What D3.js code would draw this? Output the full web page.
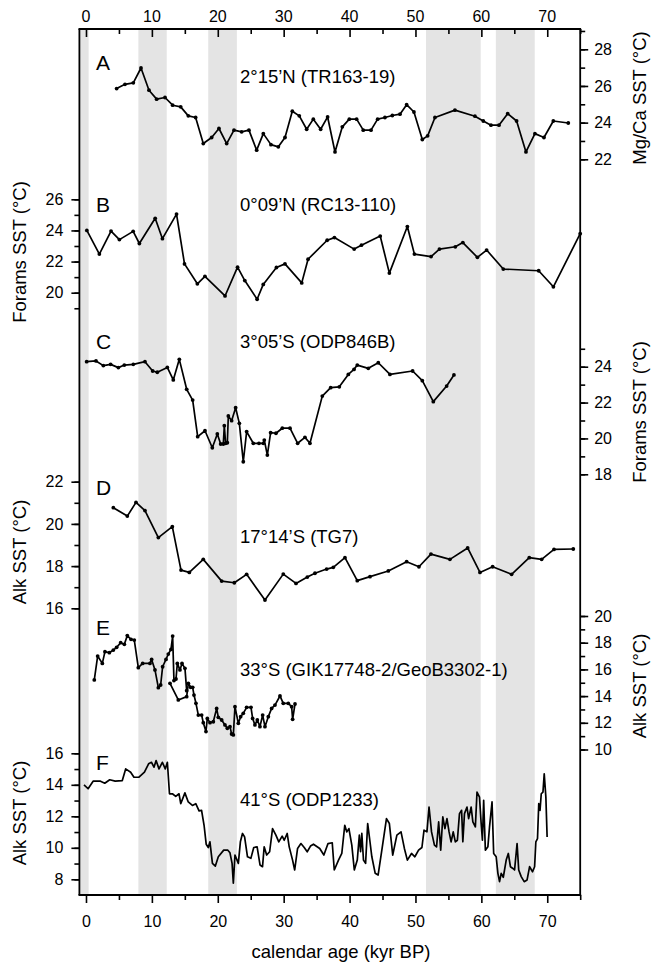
<!DOCTYPE html>
<html>
<head>
<meta charset="utf-8">
<script src="https://d3js.org/d3.v7.min.js"></script>
<style>
  body {margin:0; background:#fff;}
  text {font-family:"Liberation Sans", Arial, sans-serif; fill:#000;}
</style>
</head>
<body>
<div id="chart"></div>
<script>
// gray intervals (kyr BP)
const bandStart = [-1, 7.95, 18.55, 51.6, 62.2];
const bandEnd   = [0.4, 12.25, 22.9, 59.9, 68.1];

const xTicks = [0, 10, 20, 30, 40, 50, 60, 70];

// A  2°15'N TR163-19, Mg/Ca SST
const ageA = [4.65,5.92,7.18,8.35,9.56,10.72,11.99,13.15,14.37,15.53,16.64,17.8,19.07,20.18,21.35,22.46,23.62,24.73,25.9,26.91,28.07,29.19,30.2,31.31,32.37,33.49,34.5,35.61,36.67,37.79,38.9,39.96,41.07,42.08,43.25,44.26,45.37,46.49,47.65,48.66,49.77,51.04,51.85,52.96,55.99,59.03,60.29,61.46,62.67,63.99,65.35,66.77,68.13,69.5,70.92,73.19];
const sstA = [25.86,26.09,26.17,26.98,25.77,25.28,25.37,24.95,24.86,24.37,24.28,22.86,23.19,23.68,22.86,23.59,23.5,23.59,22.5,23.4,22.8,22.68,23.19,24.62,24.37,23.64,24.19,23.64,24.31,22.4,23.77,24.19,24.19,23.59,23.59,24.19,24.28,24.39,24.46,24.98,24.58,23.08,23.28,24.28,24.68,24.35,24.09,23.86,23.86,24.49,24.09,22.4,23.4,23.19,24.09,23.98];

// B  0°09'N RC13-110, forams SST
const ageB = [0.13,2.03,3.8,5.07,7.16,8.1,10.5,11.6,13.74,14.95,16.9,18.05,21.1,23.0,24.1,25.97,26.9,28.9,30.2,32.74,33.7,36.6,37.7,40.7,41.8,44.65,46.04,48.77,49.84,52.37,53.64,56.05,57.19,59.4,60.8,63.33,68.7,70.93,75.0];
const sstB = [24.0,22.48,23.96,23.41,23.94,23.16,24.78,23.47,25.05,21.85,20.57,21.05,19.79,21.64,20.78,19.58,20.53,21.62,21.85,20.63,22.15,23.37,23.54,22.8,23.05,23.64,21.26,24.25,22.48,22.32,22.8,22.95,23.22,22.27,22.74,21.52,21.41,20.38,23.79];

// C  3°05'S ODP846B, forams SST
const ageC = [0.1,1.52,2.63,3.74,4.91,5.82,7.18,8.95,10.12,10.82,12.34,13.25,14.16,15.28,16.19,16.95,18.06,19.17,19.93,20.44,20.84,20.99,21.19,21.45,21.6,22.1,22.71,23.27,23.87,24.38,25.39,26.25,26.91,27.06,27.52,28.02,28.83,29.79,30.96,32.12,33.23,33.99,35.86,37.13,38.44,39.81,40.67,41.17,42.84,44.36,46.13,49.57,51.04,52.71,54.73,55.84];
const sstC = [24.28,24.32,24.06,24.13,23.95,24.09,24.13,24.28,23.76,23.69,23.96,23.26,24.41,22.74,22.14,20.1,20.43,19.48,20.25,19.69,19.69,20.71,19.73,19.76,21.25,20.99,21.71,20.84,18.7,20.38,19.73,19.73,19.73,19.91,19.07,20.32,20.29,20.57,20.57,19.73,20.06,19.73,22.36,22.83,22.88,23.57,23.85,24.09,23.91,24.22,23.57,23.76,23.22,22.05,22.92,23.54];

// D  17°14'S TG7, alkenone SST
const ageD = [4.15,6.27,7.59,8.95,10.98,13.1,14.42,15.68,17.8,20.59,22.51,24.38,27.16,29.94,31.87,33.59,34.75,36.52,37.53,39.3,41.17,43.1,45.88,48.66,50.53,52.35,55.23,57.92,59.79,61.71,64.59,67.27,69.15,71.02,73.95];
const sstD = [20.77,20.37,21.02,20.63,19.35,19.87,17.81,17.7,18.32,17.29,17.21,17.61,16.39,17.62,17.18,17.48,17.66,17.86,17.94,18.4,17.31,17.5,17.77,18.21,17.97,18.57,18.32,18.86,17.7,17.97,17.61,18.4,18.32,18.79,18.81];

// E  33°S GIK17748-2 / GeoB3302-1, alkenone SST
const ageE1 = [1.26,1.77,2.48,2.88,3.54,4.15,4.65,5.26,5.82,6.27,6.83,7.33,7.94,8.6,9.71,9.96,10.47,10.98,11.33,11.63,12.14,12.49,12.9,13.15,13.35,13.66,13.86,14.26,14.57,15.02,15.28];
const sstE1 = [15.21,17.0,16.45,17.33,17.25,17.45,17.65,18.0,17.88,18.53,18.25,18.2,16.13,16.45,16.45,16.75,15.96,14.63,14.83,16.2,16.75,17.15,17.5,18.5,15.16,15.28,16.45,15.96,16.45,16.08,14.41];
const ageE2 = [12.75,14.01,15.28,15.53,15.88,16.19,16.39,16.69,17.05,17.55,17.8,18.21,18.41,18.82,19.32,19.83,20.08,20.59,21.09,21.45,21.85,22.1,22.36,22.61,23.12,23.47,23.87,24.38,25.04,25.29,25.64,26.0,26.4,26.81,27.16,27.67,28.17,28.68,29.44,29.94,30.7,31.21,31.36,31.72];
const sstE2 = [14.96,13.71,13.96,14.96,14.66,14.66,14.08,13.46,12.58,12.58,12.01,11.34,12.33,12.01,12.08,13.08,12.41,12.21,11.84,11.59,11.71,11.16,11.09,13.21,11.96,12.46,12.71,13.16,13.16,12.33,11.84,12.21,11.71,12.58,11.71,12.46,13.08,13.33,14.01,13.46,13.46,13.21,12.26,13.41];

// F  41°S ODP1233, alkenone SST
const ageF = [-0.3,0.32,1.08,2.2,2.85,3.6,4.43,5.51,6.02,6.78,7.28,8.04,8.87,9.5,9.94,10.32,10.64,11.08,11.59,12.03,12.35,12.67,13.11,13.62,14.12,14.38,15.01,15.52,16.15,16.66,17.16,17.54,17.92,18.24,18.56,18.81,19.19,19.63,20.08,20.9,21.53,21.85,22.17,22.36,22.61,23.12,23.43,23.75,24.07,24.51,25.02,25.46,25.97,26.41,26.79,27.04,27.42,27.87,28.31,28.82,29.26,29.77,30.08,30.53,30.84,31.35,31.67,32.11,32.62,33.12,33.57,34.07,34.52,35.47,36.1,36.73,37.37,37.68,38.32,38.82,39.27,39.58,39.9,40.34,40.72,41.17,41.48,41.67,41.86,42.11,42.43,42.75,43.07,43.38,43.89,44.33,44.97,45.6,46.04,46.55,47.18,47.81,48.32,48.77,49.4,49.91,50.47,50.98,51.3,51.74,52.06,52.44,52.88,53.2,53.52,53.83,54.15,54.47,54.78,55.1,55.41,55.73,56.05,56.36,56.68,57.0,57.19,57.44,57.82,58.07,58.45,58.71,59.09,59.34,59.72,59.97,60.16,60.35,60.61,60.99,61.24,61.62,61.87,62.25,62.51,62.76,63.01,63.33,63.77,64.09,64.41,64.79,65.04,65.42,65.67,66.05,66.5,66.94,67.32,67.77,68.08,68.27,68.52,68.71,68.9,69.09,69.35,69.54,69.79,69.98];
const sstF = [14.0,13.75,14.23,14.23,14.1,14.32,14.23,14.27,15.01,14.8,14.48,14.48,14.8,15.33,15.43,15.12,15.54,15.01,15.43,15.01,15.43,13.43,13.43,13.26,13.43,12.8,13.49,12.91,12.69,12.8,12.34,12.38,11.43,10.23,10.02,10.38,9.01,8.84,9.43,9.85,9.85,9.68,9.01,7.75,9.54,9.01,10.38,10.91,10.69,9.43,9.33,10.02,10.06,8.91,8.8,10.06,9.54,9.75,11.22,10.8,10.38,10.74,10.48,10.91,10.06,9.22,8.59,9.96,10.27,10.02,9.75,10.11,10.23,9.96,9.54,10.27,10.32,8.59,9.22,9.64,11.43,11.01,11.22,10.17,8.59,9.22,10.8,9.75,10.91,9.22,9.01,11.54,10.48,9.43,8.38,8.27,10.06,11.85,11.54,9.54,10.8,11.01,9.96,9.22,9.64,9.43,9.85,10.02,11.12,11.01,12.59,11.01,10.17,10.06,11.64,9.85,11.96,11.22,11.85,11.01,10.38,11.01,10.38,10.48,12.17,12.38,10.38,12.17,12.59,11.85,12.59,11.64,11.33,13.54,13.22,11.54,10.48,13.01,9.85,10.06,11.33,12.91,9.64,9.43,8.38,7.85,8.38,8.13,9.22,9.64,8.8,8.69,8.59,10.27,8.59,8.17,7.85,7.96,8.8,8.48,8.8,10.38,10.59,12.8,12.38,13.43,13.54,14.69,13.22,10.69];

const width = 653, height = 963;
const mLeft = 79.4, mRight = 580.2, mTop = 29, mBottom = 895;
const font = 16, bigFont = 18.5;

const svg = d3.select("#chart").append("svg")
    .attr("width", width)
    .attr("height", height);

const x = d3.scaleLinear().domain([-1, 75]).range([mLeft, mRight]);

// shaded intervals
svg.append("g").selectAll("rect")
    .data(d3.zip(bandStart, bandEnd))
    .enter().append("rect")
    .attr("x", d => Math.max(mLeft, x(d[0])))
    .attr("width", d => x(d[1]) - Math.max(mLeft, x(d[0])))
    .attr("y", mTop)
    .attr("height", mBottom - mTop)
    .style("fill", "#e4e4e4");

const panels = [
  {letter:"A", site:"2°15’N (TR163-19)", series:[[ageA, sstA]], dom:[22,28], rng:[159.3,49.3],
   side:"right", minor:d3.range(22,30), major:[22,24,26,28], title:"Mg/Ca SST (°C)", titleY:98,
   letterY:63, siteY:77, dots:true},
  {letter:"B", site:"0°09’N (RC13-110)", series:[[ageB, sstB]], dom:[20,26], rng:[292.7,199.3],
   side:"left", minor:d3.range(19,27), major:[20,22,24,26], title:"Forams SST (°C)", titleY:252,
   letterY:205, siteY:205, dots:true},
  {letter:"C", site:"3°05’S (ODP846B)", series:[[ageC, sstC]], dom:[18,24], rng:[474.3,366.7],
   side:"right", minor:d3.range(18,26), major:[18,20,22,24], title:"Forams SST (°C)", titleY:412,
   letterY:342, siteY:342, dots:true},
  {letter:"D", site:"17°14’S (TG7)", series:[[ageD, sstD]], dom:[16,22], rng:[608.3,481.7],
   side:"left", minor:d3.range(16,23), major:[16,18,20,22], title:"Alk SST (°C)", titleY:552,
   letterY:488, siteY:537, dots:true},
  {letter:"E", site:"33°S (GIK17748-2/GeoB3302-1)", series:[[ageE1, sstE1],[ageE2, sstE2]], dom:[10,20], rng:[749.5,616],
   side:"right", minor:d3.range(10,21), major:[10,12,14,16,18,20], title:"Alk SST (°C)", titleY:686,
   letterY:628, siteY:670, dots:true},
  {letter:"F", site:"41°S (ODP1233)", series:[[ageF, sstF]], dom:[8,16], rng:[879.3,753.3],
   side:"left", minor:d3.range(8,17), major:[8,10,12,14,16], title:"Alk SST (°C)", titleY:813,
   letterY:763, siteY:800, dots:false}
];

panels.forEach(p => {
  const y = d3.scaleLinear().domain(p.dom).range(p.rng);
  const g = svg.append("g");
  const ax = p.side === "right" ? d3.axisRight(y) : d3.axisLeft(y);
  const axMinor = p.side === "right" ? d3.axisRight(y) : d3.axisLeft(y);
  const xAxis = p.side === "right" ? mRight : mLeft;

  g.append("g")
      .attr("transform", `translate(${xAxis},0)`)
      .call(axMinor.tickValues(p.minor).tickSize(5).tickFormat(""))
      .call(a => a.select(".domain").remove());
  g.append("g")
      .attr("transform", `translate(${xAxis},0)`)
      .call(ax.tickValues(p.major).tickSize(8).tickPadding(p.side === "right" ? 6 : 8)
          .tickFormat(d3.format("d")))
      .call(a => a.select(".domain").remove())
      .call(a => a.selectAll("text").style("font-size", font + "px")
          .attr("font-family", null));

  const tx = p.side === "right" ? 640 : 20;
  g.append("text")
      .attr("transform", `translate(${tx},${p.titleY}) rotate(-90)`)
      .attr("text-anchor", "middle")
      .attr("dy", "0.35em")
      .style("font-size", bigFont + "px")
      .text(p.title);

  g.append("text").attr("x", 96).attr("y", p.letterY).attr("dy", "0.35em")
      .style("font-size", "21px").text(p.letter);
  g.append("text").attr("x", 240).attr("y", p.siteY).attr("dy", "0.35em")
      .style("font-size", bigFont + "px").text(p.site);

  const line = d3.line().x(d => x(d[0])).y(d => y(d[1]));
  p.series.forEach(s => {
    const pts = d3.zip(s[0], s[1]);
    g.append("path")
        .datum(pts)
        .attr("d", line)
        .style("fill", "none")
        .style("stroke", "#000")
        .style("stroke-width", 1.7)
        .style("stroke-linejoin", "round");
    if (p.dots) {
      g.selectAll(null).data(pts).enter().append("circle")
          .attr("cx", d => x(d[0]))
          .attr("cy", d => y(d[1]))
          .attr("r", 1.9)
          .style("fill", "#000");
    }
  });
});

// frame: left and right spines
svg.append("line").attr("x1", mLeft).attr("x2", mLeft).attr("y1", mTop).attr("y2", mBottom)
    .style("stroke", "#000").style("stroke-width", 1.8);
svg.append("line").attr("x1", mRight).attr("x2", mRight).attr("y1", mTop).attr("y2", mBottom)
    .style("stroke", "#000").style("stroke-width", 1.8);

// top axis, ticks pointing inward
const topAxis = svg.append("g").attr("transform", `translate(0,${mTop})`);
topAxis.append("g").call(d3.axisBottom(x).tickValues(d3.range(5, 80, 10)).tickSize(5).tickFormat(""));
topAxis.append("g").call(d3.axisBottom(x).tickValues(xTicks).tickSize(8).tickFormat(""));
topAxis.selectAll(".domain").remove();
topAxis.selectAll("text.lbl").data(xTicks).enter().append("text")
    .attr("class", "lbl")
    .attr("x", d => x(d)).attr("y", -7)
    .attr("text-anchor", "middle")
    .style("font-size", font + "px")
    .text(d => d);

// bottom axis
const botAxis = svg.append("g").attr("transform", `translate(0,${mBottom})`);
botAxis.append("g").call(d3.axisBottom(x).tickValues(d3.range(5, 80, 10)).tickSize(5).tickFormat(""));
botAxis.append("g").call(d3.axisBottom(x).tickValues(xTicks).tickSize(8).tickPadding(13))
    .call(a => a.selectAll("text").style("font-size", font + "px").attr("font-family", null));
botAxis.selectAll(".domain").remove();

[mTop, mBottom].forEach(yy => {
  svg.append("line").attr("x1", mLeft - 0.9).attr("x2", mRight + 0.9).attr("y1", yy).attr("y2", yy)
      .style("stroke", "#000").style("stroke-width", 1.8);
});
svg.selectAll(".tick line").style("stroke-width", 1.6);

svg.append("text")
    .attr("x", 341).attr("y", 952).attr("dy", "0.35em")
    .attr("text-anchor", "middle")
    .style("font-size", bigFont + "px")
    .text("calendar age (kyr BP)");
</script>
</body>
</html>
